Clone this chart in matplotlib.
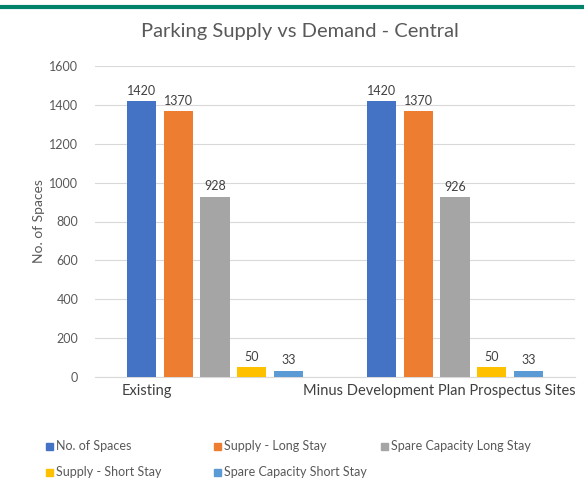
import numpy as np
import matplotlib
matplotlib.use('Agg')
import matplotlib.pyplot as plt
from matplotlib.lines import Line2D
from matplotlib.patches import Rectangle

plt.rcParams['font.family'] = ['Lato', 'DejaVu Sans']

categories = ['Existing', 'Minus Development Plan Prospectus Sites']
series_names = ['No. of Spaces', 'Supply - Long Stay', 'Spare Capacity Long Stay',
                'Supply - Short Stay', 'Spare Capacity Short Stay']
no_of_spaces = [1420, 1420]
supply_long = [1370, 1370]
spare_long = [928, 926]
supply_short = [50, 50]
spare_short = [33, 33]
colors = ['#4472C4', '#ED7D31', '#A5A5A5', '#FFC000', '#5B9BD5']

values = [no_of_spaces, supply_long, spare_long, supply_short, spare_short]

W, H = 584, 480
fig = plt.figure(figsize=(W / 100, H / 100), dpi=100)
ax = fig.add_axes([95 / W, 1 - 377 / H, 480 / W, 311 / H])

x = np.arange(len(categories))
step = 0.154
width = 0.121
for i, (name, vals, c) in enumerate(zip(series_names, values, colors)):
    bars = ax.bar(x + (i - 2) * step, vals, width, color=c, label=name, zorder=3)
    ax.bar_label(bars, padding=3, fontsize=9, color='#404040')

ax.set_xlim(-0.5, 1.5)
ax.set_ylim(0, 1600)
ax.set_yticks(range(0, 1601, 200))
ax.tick_params(axis='y', length=0, labelsize=9, labelcolor='#595959', pad=12)
ax.set_xticks([])
ax.grid(axis='y', color='#D9D9D9', lw=0.8, zorder=0)
for s in ['top', 'right', 'left']:
    ax.spines[s].set_visible(False)
ax.spines['bottom'].set_color('#D9D9D9')
ax.set_ylabel('No. of Spaces', fontsize=10, color='#595959', labelpad=3)

# category labels, placed where Excel put them
fig.text(147 / W, 1 - 391 / H, categories[0], fontsize=10.5, color='#404040',
         ha='center', va='center')
fig.text(439 / W, 1 - 391 / H, categories[1], fontsize=10.5, color='#404040',
         ha='center', va='center')

fig.text(300 / W, 1 - 32 / H, 'Parking Supply vs Demand - Central', fontsize=14.5,
         color='#595959', ha='center', va='center')

# green rule at top
fig.add_artist(Line2D([0, 1], [1 - 6.5 / H, 1 - 6.5 / H], color='#00836A', lw=3,
                      transform=fig.transFigure))

# legend, equal-width columns like Excel
col_x = [46, 214, 381]
row_y = [446, 472]
for i, (name, c) in enumerate(zip(series_names, colors)):
    cx = col_x[i % 3]
    cy = row_y[i // 3]
    fig.add_artist(Rectangle((cx / W, 1 - (cy + 3.5) / H), 7 / W, 7 / H,
                             color=c, transform=fig.transFigure))
    fig.text((cx + 10) / W, 1 - cy / H, name, fontsize=9, color='#595959',
             ha='left', va='center')

fig.savefig('out.png', dpi=100)
